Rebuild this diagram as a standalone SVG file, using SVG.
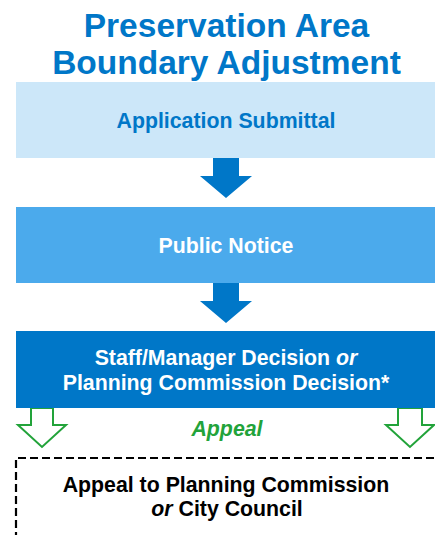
<svg xmlns="http://www.w3.org/2000/svg" width="435" height="535" viewBox="0 0 435 535">
<style>
text{font-family:"Liberation Sans",Arial,sans-serif;font-weight:bold;text-anchor:middle}
.title{font-size:33.5px;fill:#0077C8}
.lbl{font-size:21.3px}
.blue{fill:#0077C8}
.white{fill:#FFFFFF}
.black{fill:#000000}
.green{fill:#22A33A;font-style:italic}
.barrow{fill:#0077C8}
.garrow{fill:#FFFFFF;stroke:#22A33A;stroke-width:2}
</style>
<rect width="435" height="535" fill="#FFFFFF"/>
<g id="title">
<text class="title" x="226.5" y="37">Preservation Area</text>
<text class="title" x="226.5" y="74">Boundary Adjustment</text>
</g>
<g id="connectors">
<polygon class="barrow" points="213,158 239,158 239,176 252,176 226,198 200,176 213,176"/>
<polygon class="barrow" points="213,283 239,283 239,301 252,301 226,323 200,301 213,301"/>
<polygon class="garrow" points="31,408 53,408 53,425 66,425 42,447 18,425 31,425"/>
<polygon class="garrow" points="398,408 422,408 422,425 434,425 410,447 386,425 398,425"/>
<text class="lbl green" x="227" y="436">Appeal</text>
</g>
<g id="node-application">
<rect x="16" y="82" width="419" height="76" fill="#CCE7F9"/>
<text class="lbl blue" x="226" y="128">Application Submittal</text>
</g>
<g id="node-notice">
<rect x="16" y="207" width="419" height="76" fill="#4BAAEC"/>
<text class="lbl white" x="226" y="253">Public Notice</text>
</g>
<g id="node-decision">
<rect x="16" y="331" width="419" height="77" fill="#0077C8"/>
<text class="lbl white" x="226" y="365">Staff/Manager Decision <tspan font-style="italic">or</tspan></text>
<text class="lbl white" x="226" y="390">Planning Commission Decision*</text>
</g>
<g id="node-appeal">
<path d="M16,540 L16,458 L436,458" fill="none" stroke="#000000" stroke-width="2.2" stroke-dasharray="8,4"/>
<text class="lbl black" x="226" y="492">Appeal to Planning Commission</text>
<text class="lbl black" x="227" y="516"><tspan font-style="italic">or</tspan> City Council</text>
</g>
</svg>
